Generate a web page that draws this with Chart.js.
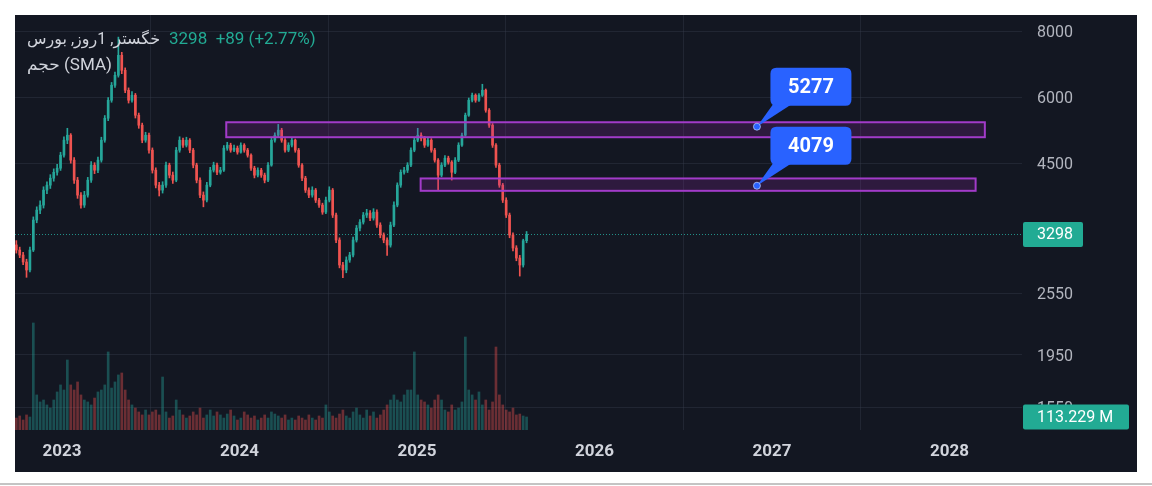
<!DOCTYPE html>
<html>
<head>
<meta charset="utf-8">
<script src="https://cdn.jsdelivr.net/npm/chart.js@4.4.1/dist/chart.umd.min.js"></script>
<style>
  body { margin: 0; background: #fff; width: 1152px; height: 486px; overflow: hidden; position: relative; }
  #panel { position: absolute; left: 15px; top: 15px; width: 1122px; height: 457px; background: #131722; }
  #rule { position: absolute; left: 0; top: 483px; width: 1152px; height: 2px; background: #c4c4c4; }
</style>
</head>
<body>
<div id="panel"><canvas id="chart"></canvas></div>
<div id="rule"></div>
<script>
// weekly candles, first one on 2022-09-29
var firstWeek = '2022-09-29';

var opens = [
  3150,3081,3014,2924,2824,3081,3511,3667,3748,4001,
  4089,4215,4325,4403,4660,4975,5084,4560,4179,3915,
  3748,3915,4179,4462,4365,4560,4975,5475,5922,6322,
  6604,7205,6749,6186,5922,6053,5547,5311,4975,5084,
  4763,4365,4089,4001,4089,4462,4271,4179,4763,4975,
  4868,4975,4763,4462,4179,3915,3830,4089,4365,4462,
  4325,4365,4805,4868,4763,4805,4722,4868,4763,4660,
  4403,4271,4365,4271,4179,4462,4975,5084,5197,4975,
  4763,4868,4975,4763,4462,4215,4001,3915,4001,3830,
  3748,3635,3830,4001,3588,3218,2886,2824,2949,3014,
  3218,3390,3480,3588,3620,3542,3635,3435,3289,3218,
  3148,3435,3748,4089,4325,4365,4462,4763,4975,5084,
  5016,4868,4975,4763,4560,4271,4462,4600,4520,4325,
  4560,4868,5084,5547,5922,6053,5922,6053,6186,5670,
  5311,4868,4462,4089,3830,3588,3289,3108,2975,2886,
  3209
];
var highs = [
  3210,3120,3050,2960,3120,3560,3720,3820,4060,4150,
  4280,4390,4480,4720,5050,5240,5120,4610,4230,3960,
  3980,4230,4530,4510,4620,5040,5540,5990,6400,6700,
  7800,7300,6820,6250,6150,6100,5600,5360,5150,5130,
  4810,4410,4140,4150,4520,4500,4330,4820,5050,5020,
  5040,5010,4800,4500,4220,3970,4140,4420,4520,4500,
  4420,4860,4930,4910,4870,4850,4920,4900,4800,4690,
  4440,4410,4400,4310,4510,5030,5140,5330,5240,5010,
  4920,5030,5000,4800,4490,4250,4040,4060,4030,3860,
  3780,3880,4060,4030,3620,3250,2920,2990,3050,3260,
  3430,3520,3630,3680,3660,3690,3670,3470,3320,3250,
  3480,3800,4130,4370,4420,4510,4810,5030,5240,5140,
  5060,5020,5010,4800,4590,4510,4650,4640,4550,4610,
  4920,5130,5600,5980,6110,6090,6100,6350,6220,5710,
  5350,4900,4500,4120,3870,3620,3320,3140,3010,3230,
  3340
];
var lows = [
  3040,2980,2890,2735,2800,3060,3470,3610,3700,3940,
  4030,4160,4270,4360,4620,4900,4500,4120,3860,3700,
  3710,3880,4140,4300,4320,4520,4930,5420,5870,6260,
  6550,6650,6120,5850,5870,5480,5240,4920,4930,4700,
  4310,4040,3900,3950,4050,4220,4120,4150,4720,4820,
  4830,4710,4410,4130,3870,3720,3800,4060,4330,4280,
  4290,4340,4760,4720,4730,4680,4700,4720,4620,4360,
  4220,4240,4230,4130,4150,4440,4930,5040,4930,4720,
  4730,4830,4720,4420,4170,3960,3870,3880,3790,3710,
  3600,3610,3800,3550,3180,2850,2730,2790,2920,2990,
  3190,3350,3450,3550,3500,3510,3400,3250,3180,3010,
  3120,3410,3720,4050,4290,4320,4430,4730,4940,4960,
  4820,4840,4720,4520,4000,4240,4430,4480,4180,4300,
  4530,4840,5060,5520,5880,5870,5890,6020,5620,5260,
  4820,4420,4050,3790,3550,3250,3070,2940,2750,2860,
  3180
];
var closes = [
  3081,3014,2924,2824,3081,3511,3667,3748,4001,4089,
  4215,4325,4403,4660,4975,5084,4560,4179,3915,3748,
  3915,4179,4462,4365,4560,4975,5475,5922,6322,6604,
  7205,6749,6186,5922,6053,5547,5311,4975,5084,4763,
  4365,4089,4001,4089,4462,4271,4179,4763,4975,4868,
  4975,4763,4462,4179,3915,3830,4089,4365,4462,4325,
  4365,4805,4868,4763,4805,4722,4868,4763,4660,4403,
  4271,4365,4271,4179,4462,4975,5084,5197,4975,4763,
  4868,4975,4763,4462,4215,4001,3915,4001,3830,3748,
  3635,3830,4001,3588,3218,2886,2824,2949,3014,3218,
  3390,3480,3588,3620,3542,3635,3435,3289,3218,3148,
  3435,3748,4089,4325,4365,4462,4763,4975,5084,5016,
  4868,4975,4763,4560,4271,4462,4600,4520,4325,4560,
  4868,5084,5547,5922,6053,5922,6053,6186,5670,5311,
  4868,4462,4089,3830,3588,3289,3108,2975,2886,3209,
  3298
];
// volume in millions
var volumes = [
  104,122,87,131,113,931,305,244,261,218,
  191,261,331,392,348,609,392,348,418,305,
  261,244,218,278,331,348,392,679,365,418,
  479,496,348,261,218,191,157,131,174,131,
  157,174,131,461,157,104,122,261,174,131,
  104,122,157,131,191,104,131,174,122,157,
  131,104,139,174,122,87,104,157,131,104,
  122,87,104,131,104,157,139,122,104,131,
  87,104,87,122,104,87,131,104,87,122,
  104,218,157,122,104,139,174,122,104,157,
  191,131,104,174,122,157,104,131,174,218,
  261,305,261,244,305,348,348,679,305,261,
  244,218,191,261,305,261,174,157,218,174,
  191,244,809,348,305,261,331,218,261,174,
  244,722,305,218,174,157,191,131,139,122,
  113.229
];

var yearTicks = [2023, 2024, 2025, 2026, 2027, 2028];
var priceTicks = [1550, 1950, 2550, 4500, 6000, 8000];

// drawn zones (rectangles) and their callout values
var zoneStart = ['2023-12-05', '2025-01-08'];
var zoneEnd = ['2028-03-14', '2028-02-24'];
var zoneTop = [5380, 4210];
var zoneBottom = [5040, 3989];
var zoneLabel = [5277, 4079];
var calloutDate = '2026-12-01';

var symbolText = 'خگستر, 1روز, بورس';
var changeText = '3298  +89 (+2.77%)';
var volumeText = 'حجم (SMA)';

var UP = '#26a69a';
var DOWN = '#ef5350';
var UP_VOL = 'rgba(38,166,154,0.4)';
var DOWN_VOL = 'rgba(239,83,80,0.4)';
var FONT = 'Roboto, "DejaVu Sans", sans-serif';

function toYear(s) {
  var d = new Date(s + 'T00:00:00Z');
  return 2023 + (d.getTime() - Date.UTC(2023, 0, 1)) / (365.25 * 86400000);
}

var dates = [];
var d0 = new Date(firstWeek + 'T00:00:00Z');
for (var i = 0; i < closes.length; i++) {
  var d = new Date(d0.getTime() + i * 7 * 86400000);
  dates.push(d.toISOString().slice(0, 10));
}
var xs = dates.map(toYear);
var isUp = closes.map(function(c, i) { return c >= opens[i]; });

function roundRect(ctx, x, y, w, h, r) {
  ctx.beginPath();
  ctx.moveTo(x + r, y);
  ctx.lineTo(x + w - r, y);
  ctx.quadraticCurveTo(x + w, y, x + w, y + r);
  ctx.lineTo(x + w, y + h - r);
  ctx.quadraticCurveTo(x + w, y + h, x + w - r, y + h);
  ctx.lineTo(x + r, y + h);
  ctx.quadraticCurveTo(x, y + h, x, y + h - r);
  ctx.lineTo(x, y + r);
  ctx.quadraticCurveTo(x, y, x + r, y);
  ctx.closePath();
}

var overlay = {
  id: 'overlay',
  beforeDatasetsDraw: function(chart) {
    var ctx = chart.ctx, a = chart.chartArea, y = chart.scales.y;
    // last price line
    var py = Math.round(y.getPixelForValue(closes[closes.length - 1])) + 0.5;
    ctx.save();
    ctx.strokeStyle = 'rgba(38,166,154,0.85)';
    ctx.lineWidth = 1;
    ctx.setLineDash([1, 2]);
    ctx.beginPath();
    ctx.moveTo(a.left, py);
    ctx.lineTo(a.right, py);
    ctx.stroke();
    ctx.restore();
  },
  afterDatasetsDraw: function(chart) {
    var ctx = chart.ctx, a = chart.chartArea, x = chart.scales.x, y = chart.scales.y;
    ctx.save();
    ctx.beginPath();
    ctx.rect(a.left, a.top, a.right - a.left, a.bottom - a.top);
    ctx.clip();
    for (var k = 0; k < zoneLabel.length; k++) {
      var x1 = x.getPixelForValue(toYear(zoneStart[k]));
      var x2 = x.getPixelForValue(toYear(zoneEnd[k]));
      var y1 = y.getPixelForValue(zoneTop[k]);
      var y2 = y.getPixelForValue(zoneBottom[k]);
      ctx.fillStyle = 'rgba(156,39,176,0.2)';
      ctx.fillRect(x1, y1, x2 - x1, y2 - y1);
      ctx.strokeStyle = '#a23bc9';
      ctx.lineWidth = 2;
      ctx.strokeRect(x1, y1, x2 - x1, y2 - y1);
    }
    // callouts
    for (var k = 0; k < zoneLabel.length; k++) {
      var px = x.getPixelForValue(toYear(calloutDate));
      var py = y.getPixelForValue(zoneLabel[k]);
      var bx = px + 13.5, by = py - 59, bw = 81, bh = 38;
      ctx.fillStyle = '#2962ff';
      ctx.beginPath();
      ctx.moveTo(px, py);
      ctx.lineTo(bx + 3, by + bh - 2);
      ctx.lineTo(bx + 22, by + bh - 2);
      ctx.closePath();
      ctx.fill();
      roundRect(ctx, bx, by, bw, bh, 6);
      ctx.fill();
      ctx.beginPath();
      ctx.arc(px, py, 3.5, 0, Math.PI * 2);
      ctx.fill();
      ctx.strokeStyle = 'rgba(200,215,255,0.7)';
      ctx.lineWidth = 1;
      ctx.stroke();
      ctx.fillStyle = '#ffffff';
      ctx.font = 'bold 20px ' + FONT;
      ctx.textAlign = 'center';
      ctx.textBaseline = 'middle';
      ctx.fillText(String(zoneLabel[k]), bx + bw / 2, by + bh / 2 + 1);
    }
    ctx.restore();
  },
  afterDraw: function(chart) {
    var ctx = chart.ctx, a = chart.chartArea, y = chart.scales.y, yv = chart.scales.yv;
    ctx.save();
    ctx.font = '16px ' + FONT;
    ctx.textBaseline = 'middle';
    ctx.textAlign = 'left';
    // price badge
    var last = closes.length - 1;
    var py = y.getPixelForValue(closes[last]);
    ctx.fillStyle = '#22ab94';
    roundRect(ctx, a.right + 1, py - 12.5, 60, 25, 2);
    ctx.fill();
    ctx.fillStyle = '#ffffff';
    ctx.fillText(String(closes[last]), a.right + 15, py + 1);
    // volume badge
    var vy = yv.getPixelForValue(volumes[last]);
    ctx.fillStyle = '#22ab94';
    roundRect(ctx, a.right + 1, vy - 12.5, 106, 25, 2);
    ctx.fill();
    ctx.fillStyle = '#ffffff';
    ctx.fillText(volumes[last].toFixed(3) + ' M', a.right + 15, vy + 1);
    // legend
    ctx.font = '16px ' + FONT;
    ctx.fillStyle = '#d1d4dc';
    ctx.fillText(symbolText, 12, 25);
    ctx.font = '17px ' + FONT;
    ctx.fillStyle = '#22ab94';
    ctx.fillText(changeText, 154, 25);
    ctx.fillStyle = '#d1d4dc';
    ctx.fillText(volumeText, 12, 51);
    ctx.restore();
  }
};

var gridColor = 'rgba(60,66,84,0.35)';

new Chart(document.getElementById('chart'), {
  type: 'bar',
  data: {
    datasets: [
      {
        label: 'body',
        data: xs.map(function(x, i) { return { x: x, y: [opens[i], closes[i]] }; }),
        backgroundColor: isUp.map(function(u) { return u ? UP : DOWN; }),
        barThickness: 2,
        minBarLength: 1,
        grouped: false,
        yAxisID: 'y',
        order: 1
      },
      {
        label: 'wick',
        data: xs.map(function(x, i) { return { x: x, y: [lows[i], highs[i]] }; }),
        backgroundColor: isUp.map(function(u) { return u ? UP : DOWN; }),
        barThickness: 1,
        grouped: false,
        yAxisID: 'y',
        order: 2
      },
      {
        label: 'volume',
        data: xs.map(function(x, i) { return { x: x, y: volumes[i] }; }),
        backgroundColor: isUp.map(function(u) { return u ? UP_VOL : DOWN_VOL; }),
        barThickness: 2,
        grouped: false,
        yAxisID: 'yv',
        order: 3
      }
    ]
  },
  options: {
    responsive: true,
    maintainAspectRatio: false,
    animation: false,
    layout: { padding: 0 },
    plugins: { legend: { display: false }, tooltip: { enabled: false } },
    scales: {
      x: {
        type: 'linear',
        position: 'bottom',
        min: 2022.7352,
        max: 2028.4085,
        offset: false,
        afterBuildTicks: function(s) { s.ticks = yearTicks.map(function(v) { return { value: v }; }); },
        afterFit: function(s) { s.height = 42; s.paddingLeft = 0; s.paddingRight = 0; },
        ticks: {
          color: '#d1d4dc',
          font: { family: FONT, size: 17, weight: 'bold' },
          padding: 12,
          maxRotation: 0,
          autoSkip: false,
          callback: function(v) { return String(v); }
        },
        grid: { color: gridColor, drawTicks: false },
        border: { display: false }
      },
      y: {
        type: 'logarithmic',
        position: 'right',
        min: 1405,
        max: 8590,
        afterBuildTicks: function(s) { s.ticks = priceTicks.map(function(v) { return { value: v }; }); },
        afterFit: function(s) { s.width = 115; s.paddingTop = 0; s.paddingBottom = 0; },
        ticks: {
          color: '#b2b5be',
          font: { family: FONT, size: 16 },
          padding: 15,
          labelOffset: 2,
          autoSkip: false,
          callback: function(v) { return String(v); }
        },
        grid: { color: gridColor, drawTicks: false },
        border: { display: false }
      },
      yv: {
        type: 'linear',
        display: false,
        min: 0,
        max: 3610
      }
    }
  },
  plugins: [overlay]
});
</script>
</body>
</html>
